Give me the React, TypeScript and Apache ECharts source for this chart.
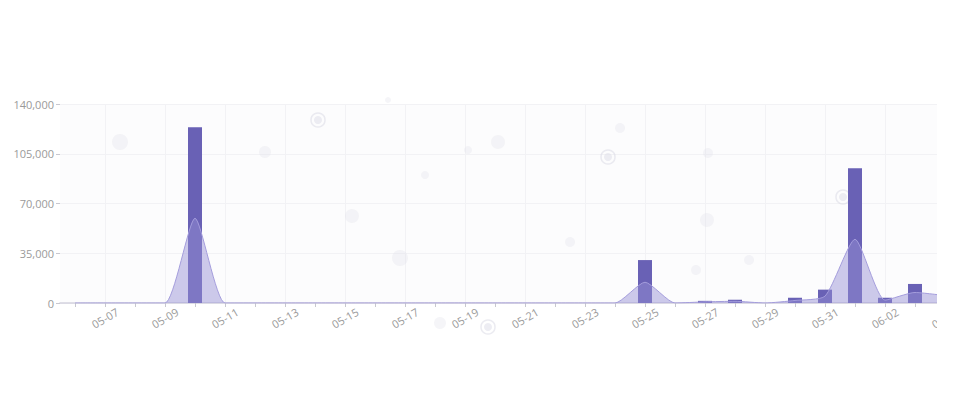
import React, { useEffect, useRef } from "react";
import * as echarts from "echarts";

const categories = [
  "05-06", "05-07", "05-08", "05-09", "05-10", "05-11", "05-12", "05-13", "05-14", "05-15",
  "05-16", "05-17", "05-18", "05-19", "05-20", "05-21", "05-22", "05-23", "05-24", "05-25",
  "05-26", "05-27", "05-28", "05-29", "05-30", "05-31", "06-01", "06-02", "06-03", "06-04",
];

const barValues = [
  0, 0, 0, 0, 123600, 0, 0, 0, 0, 0,
  0, 0, 0, 0, 0, 0, 0, 0, 0, 30200,
  0, 1500, 2300, 0, 3700, 9400, 94800, 3700, 13400, 0,
];

const lineValues = [
  0, 0, 0, 0, 59600, 0, 0, 0, 0, 0,
  0, 0, 0, 0, 0, 0, 0, 0, 0, 14600,
  0, 800, 1200, 0, 1800, 4800, 44800, 2000, 7400, 5200,
];

const yTicks = [0, 35000, 70000, 105000, 140000];

const decoDots: [number, number, number][] = [
  [120, 142, 8], [265, 152, 6], [352, 216, 7], [400, 258, 8], [425, 175, 4],
  [468, 150, 4], [498, 142, 7], [570, 242, 5], [620, 128, 5], [696, 270, 5],
  [707, 220, 7], [708, 153, 5], [749, 260, 5], [388, 100, 3], [440, 323, 6],
];
const decoRings: [number, number][] = [
  [318, 120], [608, 157], [843, 197], [488, 327],
];

export default function App() {
  const ref = useRef<HTMLDivElement>(null);
  useEffect(() => {
    if (!ref.current) return;
    const chart = echarts.init(ref.current, undefined, { renderer: "svg" });
    const graphics: any[] = [];
    decoDots.forEach(([x, y, r]) =>
      graphics.push({ type: "circle", silent: true, z: 1, shape: { cx: x, cy: y, r }, style: { fill: "rgba(225,225,235,0.35)" } })
    );
    decoRings.forEach(([x, y]) => {
      graphics.push({ type: "circle", silent: true, z: 1, shape: { cx: x, cy: y, r: 7 }, style: { fill: "none", stroke: "rgba(215,215,228,0.5)", lineWidth: 1.5 } });
      graphics.push({ type: "circle", silent: true, z: 1, shape: { cx: x, cy: y, r: 4 }, style: { fill: "rgba(220,220,232,0.5)" } });
    });
    chart.setOption({
      animation: false,
      backgroundColor: "#ffffff",
      textStyle: { fontFamily: "Open Sans, sans-serif" },
      graphic: graphics,
      grid: { left: 60, top: 104, width: 900, height: 199, backgroundColor: "#fcfcfd", show: true, borderWidth: 0 },
      xAxis: {
        type: "category",
        data: categories,
        boundaryGap: true,
        axisLine: { lineStyle: { color: "#d4d2de", width: 1.5 } },
        axisTick: { show: true, alignWithLabel: true, interval: 0, length: 4, lineStyle: { color: "#c8c8d0" } },
        axisLabel: {
          interval: 0,
          formatter: (v: string, i: number) => (i % 2 === 1 ? v : ""),
          rotate: 30,
          align: "center",
          verticalAlign: "middle",
          margin: 15,
          color: "#9a9a9a",
          fontSize: 11,
        },
        splitLine: { show: true, interval: (i: number) => i % 2 === 1, alignWithLabel: true, lineStyle: { color: "#f2f2f5" } },
      },
      yAxis: {
        type: "value",
        min: 0,
        max: yTicks[yTicks.length - 1],
        interval: yTicks[1] - yTicks[0],
        axisLine: { show: false },
        axisTick: { show: true, length: 4, lineStyle: { color: "#c8c8d0" } },
        axisLabel: {
          color: "#9a9a9a",
          fontSize: 11,
          margin: 6,
          formatter: (v: number) => v.toLocaleString("en-US"),
        },
        splitLine: { show: true, lineStyle: { color: "#f2f2f5" } },
      },
      series: [
        {
          type: "bar",
          data: barValues,
          barWidth: 14,
          z: 3,
          itemStyle: { color: "#6961b5" },
        },
        {
          type: "line",
          data: lineValues,
          smooth: 0.2,
          z: 4,
          symbol: "none",
          lineStyle: { color: "#a49ddc", width: 1 },
          areaStyle: { color: "rgba(151,144,213,0.67)" },
        },
      ],
    });
    return () => chart.dispose();
  }, []);
  return (
    <div style={{ position: "fixed", left: 0, top: 0, width: 937, height: 420, overflow: "hidden", background: "#fff" }}>
      <div ref={ref} style={{ width: 980, height: 420 }} />
    </div>
  );
}
